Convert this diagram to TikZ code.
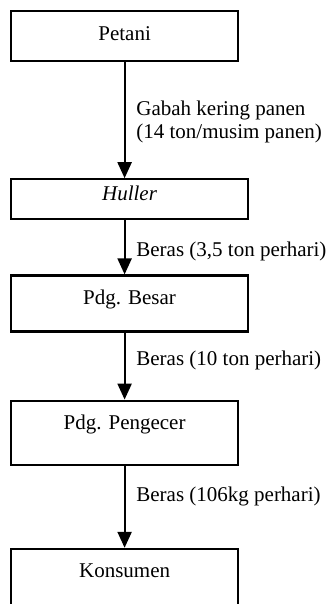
\documentclass[tikz,border=0pt]{standalone}
\usepackage{fontspec}
\setmainfont{Liberation Serif}
\usepackage{tikz}
\usetikzlibrary{positioning, arrows.meta}
\tikzstyle{kotak} = [rectangle, 
anchor=north west,
text height=7.5pt,
inner ysep=7pt,
text centered, 
line width=1.1pt,
draw=black]
\tikzstyle{arrow} = [line width=1.1pt,-{Triangle[length=8pt,width=7pt]}]
\tikzstyle{ket} = [right=2pt, align=left, font=\fontsize{10.5}{11.5}\selectfont]

\begin{document}
\begin{tikzpicture}[font=\fontsize{10.5}{12}\selectfont]
\useasboundingbox (0,0) rectangle (163pt,-302pt);
\node (petani)[kotak, minimum width=113.5pt, text depth=3.5pt] at (5pt,-5pt) {Petani};
\node (huller)[kotak, below=58pt of petani.south west, anchor=north west, minimum width=118.5pt, inner ysep=3pt, text depth=6.5pt] {\textit{Huller}};
\node (besar)[kotak, below=27pt of huller.south west, anchor=north west, minimum width=118.5pt, text depth=6.5pt] {Pdg. Besar};
\node (pengecer)[kotak, below=33.5pt of besar.south west, anchor=north west, minimum width=113.5pt, text depth=10.5pt] {Pdg. Pengecer};
\node (konsumen)[kotak, below=41pt of pengecer.south west, anchor=north west, minimum width=113.5pt, text depth=10.5pt] {Konsumen};
%arus beras
\draw[arrow] (petani.south) -- (huller.north -| petani.south) node[ket, midway, yshift=-1pt] (k1) {Gabah kering panen\\(14 ton/musim panen)};
\draw[arrow] (huller.south -| petani.south) -- (besar.north -| petani.south) node[ket, midway, yshift=-2pt] (k2) {Beras (3,5 ton perhari)};
\draw[arrow] (besar.south -| petani.south) -- (pengecer.north -| petani.south) node[ket, midway, yshift=3pt] (k3) {Beras (10 ton perhari)};
\draw[arrow] (pengecer.south) -- (konsumen.north) node[ket, midway, yshift=5pt] (k4) {Beras (106kg perhari)};
\end{tikzpicture}
\end{document}
